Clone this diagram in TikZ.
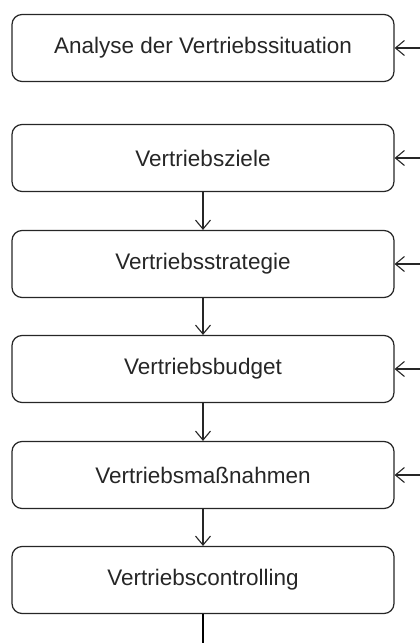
\documentclass[tikz,border=0pt]{standalone}
\usepackage{fontspec}
\setmainfont{Liberation Sans}
\usetikzlibrary{arrows.meta}
\begin{document}
\begin{tikzpicture}[x=1pt,y=-1pt,
  stagebox/.style={draw=black!85, line width=1.2pt, rounded corners=10pt,
    minimum width=382pt, minimum height=67pt, inner sep=0pt,
    font=\fontsize{22.5}{26}\selectfont, text=black!85},
  flow/.style={draw=black!85, line width=1.1pt,
    -{Straight Barb[length=9pt,width=15pt,line width=1.1pt]}}]
  \useasboundingbox (0,0) rectangle (420,643);
  % the six stages of sales planning, top to bottom
  \node[stagebox] (s1) at (203,48)  {Analyse der Vertriebssituation};
  \node[stagebox] (s2) at (203,158) {Vertriebsziele};
  \node[stagebox] (s3) at (203,264) {Vertriebsstrategie};
  \node[stagebox] (s4) at (203,369) {Vertriebsbudget};
  \node[stagebox] (s5) at (203,475) {Vertriebsmaßnahmen};
  \node[stagebox] (s6) at (203,580) {Vertriebscontrolling};
  % feedback inputs entering from the right edge
  \foreach \n in {s1,s2,s3,s4,s5}
    \coordinate (in-\n) at ([xshift=26pt]\n.east);
  \foreach \n in {s1,s2,s3,s4,s5}
    \draw[flow] (in-\n) -- (\n.east);
  % downward sequence
  \draw[flow] (s2) -- (s3);
  \draw[flow] (s3) -- (s4);
  \draw[flow] (s4) -- (s5);
  \draw[flow] (s5) -- (s6);
  % outgoing line at the bottom
  \coordinate (out) at (203,643);
  \draw[draw=black, line width=2pt] (s6.south) -- (out);
\end{tikzpicture}
\end{document}
